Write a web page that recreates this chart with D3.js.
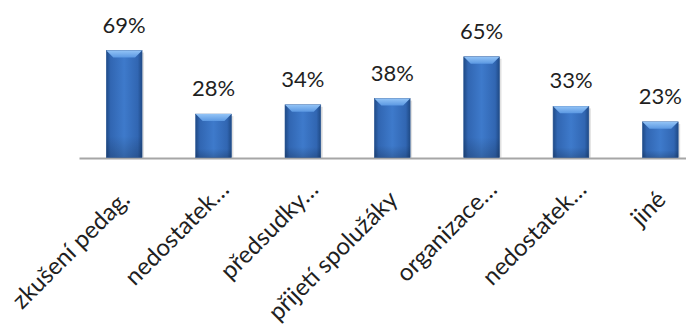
<!DOCTYPE html>
<html><head><meta charset="utf-8">
<script src="https://cdn.jsdelivr.net/npm/d3@7"></script>
<style>
html,body{margin:0;padding:0;background:#fff;}
svg{display:block;}
</style></head>
<body>
<script>
const categories = ["zkušení pedag.", "nedostatek…", "předsudky…", "přijetí spolužáky", "organizace…", "nedostatek…", "jiné"];
const values = [0.69, 0.28, 0.34, 0.38, 0.65, 0.33, 0.23];
const valueLabels = ["69%", "28%", "34%", "38%", "65%", "33%", "23%"];

const W = 686, H = 327;
const svg = d3.select("body").append("svg").attr("width", W).attr("height", H);

const x = d3.scaleBand().domain(categories.map((d,i)=>i)).range([79.5, 705]).paddingInner(0.6).paddingOuter(0.3);
const y = d3.scaleLinear().domain([0, 0.8]).range([157.5, 33.5]);

const defs = svg.append("defs");
const g1 = defs.append("linearGradient").attr("id","body").attr("x1","0").attr("x2","1").attr("y1","0").attr("y2","0");
[["0%","#1f4a86"],["12%","#3166b2"],["50%","#3e7acb"],["88%","#3166b2"],["100%","#1f4a86"]].forEach(s=>g1.append("stop").attr("offset",s[0]).attr("stop-color",s[1]));
const g2 = defs.append("linearGradient").attr("id","top").attr("x1","0").attr("x2","0").attr("y1","0").attr("y2","1");
[["0%","#92c3f6"],["100%","#5b98e2"]].forEach(s=>g2.append("stop").attr("offset",s[0]).attr("stop-color",s[1]));
const g3 = defs.append("linearGradient").attr("id","vshade").attr("x1","0").attr("x2","0").attr("y1","0").attr("y2","1");
[["0%","#000","0"],["80%","#000","0"],["100%","#000","0.18"]].forEach(s=>g3.append("stop").attr("offset",s[0]).attr("stop-color",s[1]).attr("stop-opacity",s[2]));

// axis line
svg.append("line").attr("x1",79.5).attr("x2",W).attr("y1",y(0)+1).attr("y2",y(0)+1)
  .attr("stroke","#a6a6a6").attr("stroke-width",2);

const bars = svg.append("g").selectAll("g").data(values).join("g");
bars.append("rect")
  .attr("x",(d,i)=>x(i)+2).attr("y",d=>y(d)+2)
  .attr("width",x.bandwidth()).attr("height",d=>y(0)-y(d)-2)
  .attr("fill","#000").attr("opacity",0.12);
bars.append("rect")
  .attr("x",(d,i)=>x(i)).attr("y",d=>y(d))
  .attr("width",x.bandwidth()).attr("height",d=>y(0)-y(d))
  .attr("fill","url(#body)").attr("stroke","#2a5694").attr("stroke-width",0.6);
bars.append("rect")
  .attr("x",(d,i)=>x(i)).attr("y",d=>y(d))
  .attr("width",x.bandwidth()).attr("height",d=>y(0)-y(d))
  .attr("fill","url(#vshade)");
const bev = 7;
bars.append("path")
  .attr("d",(d,i)=>{
    const x0=x(i), x1=x(i)+x.bandwidth(), t=y(d);
    return `M${x0},${t}L${x1},${t}L${x1-bev},${t+bev}L${x0+bev},${t+bev}Z`;
  })
  .attr("fill","url(#top)");

// value labels
svg.append("g").selectAll("text").data(values).join("text")
  .attr("x",(d,i)=>x(i)+x.bandwidth()/2)
  .attr("y",d=>y(d)-18)
  .attr("text-anchor","middle")
  .attr("font-family","Lato, 'Open Sans', sans-serif")
  .attr("font-size",22)
  .attr("fill","#1f1f1f")
  .text((d,i)=>valueLabels[i]);

// category labels
svg.append("g").selectAll("text").data(categories).join("text")
  .attr("transform",(d,i)=>`translate(${x(i)+x.bandwidth()/2+7},201) rotate(-45)`)
  .attr("text-anchor","end")
  .attr("dx",d=>d.endsWith("…") ? 14 : 0)
  .attr("font-family","Lato, 'Open Sans', sans-serif")
  .attr("font-size",24)
  .attr("fill","#1f1f1f")
  .text(d=>d);
</script>
</body></html>
